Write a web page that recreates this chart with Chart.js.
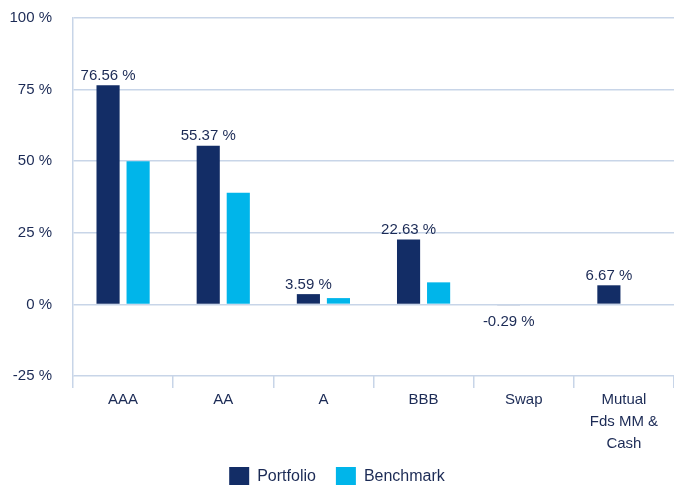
<!DOCTYPE html>
<html>
<head>
<meta charset="utf-8">
<script src="https://cdn.jsdelivr.net/npm/chart.js@4"></script>
<style>
  html, body { margin: 0; padding: 0; background: #ffffff; }
  #wrap { width: 674px; height: 485px; }
</style>
</head>
<body>
<div id="wrap"><canvas id="c" width="674" height="485"></canvas></div>
<script>
const categories = ["AAA", "AA", "A", "BBB", "Swap", ["Mutual", "Fds MM &", "Cash"]];
const portfolio = [76.56, 55.37, 3.59, 22.63, -0.29, 6.67];
const benchmark = [50.0, 39.0, 2.2, 7.7, 0, 0];
const yTicks = [-25, 0, 25, 50, 75, 100];

const TEXT = "#1b2a55";
const GRID = "#c8d5e8";
const NAVY = "#132d66";
const CYAN = "#00b5ea";
const FONT = "'Liberation Sans', Arial, Helvetica, sans-serif";

const labelPlugin = {
  id: "barLabels",
  afterLayout(chart) {
    // let the multi-line category label extend below its reserved box
    const x = chart.scales.x;
    x.bottom = x.top + 100;
  },
  afterDatasetsDraw(chart) {
    const ctx = chart.ctx;
    const meta = chart.getDatasetMeta(0);
    const data = chart.data.datasets[0].data;
    ctx.save();
    ctx.font = "15px " + FONT;
    ctx.fillStyle = TEXT;
    ctx.textAlign = "center";
    meta.data.forEach((bar, i) => {
      const v = data[i];
      const txt = v.toFixed(2) + " %";
      if (v >= 0) {
        ctx.textBaseline = "bottom";
        ctx.fillText(txt, bar.x, bar.y - 2);
      } else {
        ctx.textBaseline = "top";
        ctx.fillText(txt, bar.x, bar.base + 9);
      }
    });
    ctx.restore();
  }
};

new Chart(document.getElementById("c"), {
  type: "bar",
  data: {
    labels: categories,
    datasets: [
      { label: "Portfolio", data: portfolio, backgroundColor: NAVY, categoryPercentage: 0.6, barPercentage: 0.77 },
      { label: "Benchmark", data: benchmark, backgroundColor: CYAN, categoryPercentage: 0.6, barPercentage: 0.77 }
    ]
  },
  options: {
    responsive: false,
    animation: false,
    layout: { padding: { top: 18, right: 0, left: 0, bottom: -11 } },
    plugins: {
      legend: {
        position: "bottom",
        labels: {
          boxWidth: 20,
          boxHeight: 19,
          padding: 20,
          color: TEXT,
          font: { family: FONT, size: 16 }
        }
      },
      tooltip: { enabled: false }
    },
    scales: {
      x: {
        grid: {
          drawOnChartArea: false,
          drawTicks: true,
          tickLength: 12,
          color: GRID,
          lineWidth: 1.5,
          offset: true
        },
        border: { display: false },
        ticks: {
          color: TEXT,
          font: { family: FONT, size: 15, lineHeight: 1.47 },
          padding: 1,
          maxRotation: 0
        },
        afterFit(scale) { scale.height = 71; }
      },
      y: {
        min: -25,
        max: 100,
        afterBuildTicks(scale) { scale.ticks = yTicks.map(v => ({ value: v })); },
        grid: { color: GRID, lineWidth: 1.5, drawTicks: false },
        border: { display: true, color: GRID, width: 1.5 },
        ticks: {
          color: TEXT,
          font: { family: FONT, size: 15 },
          padding: 21,
          callback: v => v + " %"
        },
        afterFit(scale) { scale.width = 73; scale.paddingTop = 0; scale.paddingBottom = 0; }
      }
    }
  },
  plugins: [labelPlugin]
});
</script>
</body>
</html>
